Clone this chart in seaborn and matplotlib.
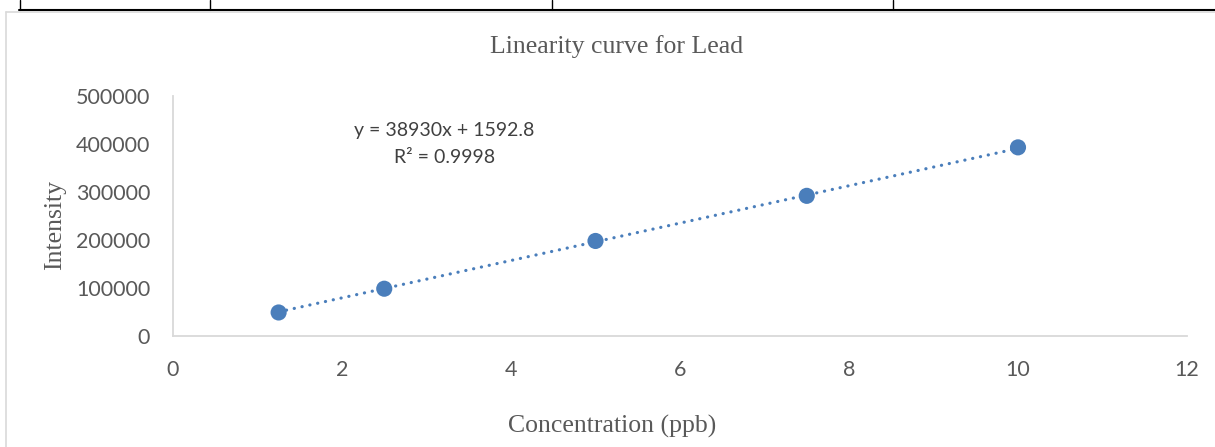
import numpy as np
import pandas as pd
import matplotlib
matplotlib.use("Agg")
import matplotlib.pyplot as plt
from matplotlib.lines import Line2D
import seaborn as sns

# ---- data ----
concentration = [1.25, 2.5, 5.0, 7.5, 10.0]
intensity = [49000, 98500, 198000, 292000, 393000]
slope = 38930
intercept = 1592.8
r_squared = 0.9998
x_ticks = [0, 2, 4, 6, 8, 10, 12]
y_ticks = [0, 100000, 200000, 300000, 400000, 500000]
title = "Linearity curve for Lead"
x_label = "Concentration (ppb)"
y_label = "Intensity"

sns.set_theme(style="white")
plt.rcParams['font.family'] = ['Lato', 'DejaVu Sans']

W, H = 1215, 447
fig = plt.figure(figsize=(W / 100, H / 100), dpi=100)
ax = fig.add_axes([173 / W, 1 - 336 / H, (1187 - 173) / W, (336 - 96) / H])

df = pd.DataFrame({"x": concentration, "y": intensity})
blue = "#4A7EBB"

# trendline over data range
xs = np.array([min(concentration), max(concentration)])
trend = pd.DataFrame({"x": xs, "y": slope * xs + intercept})
sns.lineplot(data=trend, x="x", y="y", ax=ax, color=blue, lw=2.3,
             linestyle=(0, (0.05, 2.45)), zorder=2)
ax.lines[-1].set_dash_capstyle("round")

sns.scatterplot(data=df, x="x", y="y", ax=ax, color=blue, s=135,
                edgecolor="none", zorder=3)

ax.set_xlim(0, 12)
ax.set_ylim(0, 500000)
ax.set_xticks(x_ticks)
ax.set_yticks(y_ticks)
ax.set_xticklabels([str(t) for t in x_ticks])
ax.set_yticklabels([str(t) for t in y_ticks])
ax.tick_params(axis="both", length=0, labelsize=15.5, labelcolor="#595959")
ax.tick_params(axis="x", pad=17)
ax.tick_params(axis="y", pad=16.5)

for s in ["top", "right"]:
    ax.spines[s].set_visible(False)
for s in ["left", "bottom"]:
    ax.spines[s].set_color("#D9D9D9")
    ax.spines[s].set_linewidth(1.3)

ax.set_xlabel("")
ax.set_ylabel("")

serif = ['Liberation Serif', 'DejaVu Serif']
fig.text(617 / W, 1 - 47 / H, title, ha="center", va="center",
         fontsize=18.5, color="#595959", family=serif)
fig.text(612 / W, 1 - 426 / H, x_label, ha="center", va="center",
         fontsize=18.5, color="#595959", family=serif)
fig.text(55 / W, 1 - 225 / H, y_label, ha="center", va="center",
         fontsize=18.5, color="#595959", family=serif, rotation=90)

# equation annotation
ax.text(3.21, 429000, f"y = {slope}x + {intercept}",
        ha="center", va="center", fontsize=14, color="#404040")
ax.text(3.21, 371000, f"R\u00b2 = {r_squared}",
        ha="center", va="center", fontsize=14, color="#404040")

# page/table borders
fig.add_artist(Line2D([19 / W, 1], [1 - 9.5 / H, 1 - 9.5 / H],
                      transform=fig.transFigure, color="black", lw=1.5))
for xv in [20, 210, 552, 893]:
    fig.add_artist(Line2D([xv / W, xv / W], [1, 1 - 9.5 / H],
                          transform=fig.transFigure, color="black", lw=1.0))
fig.add_artist(Line2D([5.5 / W, 1], [1 - 11.5 / H, 1 - 11.5 / H],
                      transform=fig.transFigure, color="#D9D9D9", lw=1.2))
fig.add_artist(Line2D([5.5 / W, 5.5 / W], [1 - 11.5 / H, 0],
                      transform=fig.transFigure, color="#D9D9D9", lw=1.2))

fig.savefig("out.png", dpi=100)
